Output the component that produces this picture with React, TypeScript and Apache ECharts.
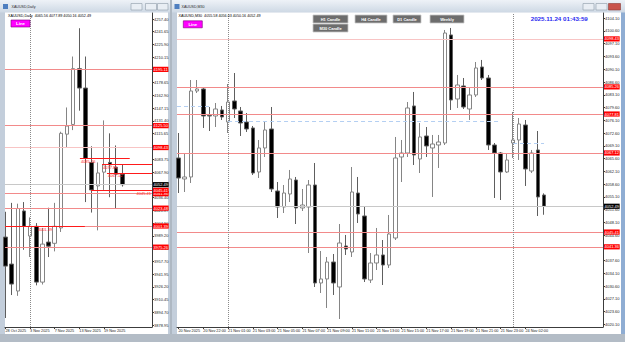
import React, { useEffect, useRef } from 'react';
import * as echarts from 'echarts';

// ---------------- Daily chart (left window) ----------------
const dailyOpen = [3987.7, 3954.3, 3921.0, 4020.0, 3989.0, 4001.0, 3932.0, 3981.5, 3980.0, 3999.0, 4115.0, 4127.0, 4196.0, 4172.0, 4080.0, 4051.0, 4068.0, 4080.0, 4074.0, 4065.56];
const dailyHigh = [4019.0, 4030.0, 4029.0, 4031.0, 4012.0, 4005.0, 3999.0, 4024.0, 4030.0, 4118.0, 4148.0, 4211.0, 4246.0, 4211.0, 4100.0, 4080.0, 4132.0, 4116.0, 4101.0, 4077.89];
const dailyLow = [3887.6, 3916.0, 3915.0, 3972.0, 3963.0, 3928.0, 3929.0, 3963.0, 3970.0, 3994.0, 4098.0, 4120.0, 4144.0, 4031.0, 4018.0, 3996.0, 4046.0, 4037.0, 4023.5, 4050.16];
const dailyClose = [3951.8, 3929.6, 4023.0, 4001.0, 4001.0, 3932.0, 3979.0, 3976.5, 4001.0, 4116.0, 4125.0, 4196.0, 4172.0, 4085.0, 4046.0, 4067.0, 4077.0, 4077.0, 4065.5, 4052.49];
const dailyTickPos = [0, 4, 8, 12, 16];
const dailyTickLabels = ['28 Oct 2025', '3 Nov 2025', '7 Nov 2025', '13 Nov 2025', '19 Nov 2025'];
const dailyPriceTicks = [3878.95, 3894.70, 3910.45, 3926.20, 3941.95, 3957.70, 3973.56, 3989.20, 4004.90, 4020.87, 4036.40, 4052.41, 4067.90, 4083.75, 4099.71, 4115.65, 4131.40, 4147.15, 4162.90, 4178.65, 4194.33, 4210.15, 4225.90, 4241.65, 4257.40];
const dailyLevels = [4195.11, 4125.50, 4098.43, 4041.36, 4023.48, 4001.39, 3975.26];
const dailyRayPrice = [4085.26, 4077.81, 4067.12, 4045.41, 4001.39];
const dailyRayFrom = [12.1, 15.7, 16.5, 13.9, -0.08];
const dailyRayTo = [20.2, 23.82, 23.82, 23.82, 12.9];
const dailySeparators = [4];

// ---------------- M30 chart (right window) ----------------
const m30Open = [4065.74, 4059.98, 4060.53, 4084.13, 4084.68, 4077.40, 4077.27, 4078.92, 4075.62, 4081.39, 4078.64, 4075.62, 4073.98, 4061.90, 4068.49, 4073.70, 4056.68, 4052.29, 4055.86, 4059.70, 4052.02, 4052.29, 4058.33, 4031.43, 4032.53, 4037.19, 4030.33, 4041.59, 4039.94, 4056.13, 4049.82, 4032.25, 4036.92, 4039.12, 4036.37, 4043.78, 4066.02, 4067.11, 4080.02, 4065.47, 4071.78, 4068.49, 4069.31, 4069.86, 4099.51, 4081.94, 4085.51, 4079.19, 4083.04, 4090.72, 4087.70, 4069.31, 4067.11, 4061.90, 4069.86, 4070.68, 4074.80, 4062.17, 4067.94, 4055.58];
const m30High = [4072.60, 4067.11, 4087.15, 4087.15, 4084.96, 4079.74, 4080.84, 4080.02, 4086.05, 4089.07, 4079.74, 4078.09, 4074.53, 4070.68, 4075.62, 4079.74, 4059.15, 4058.33, 4062.45, 4060.53, 4057.23, 4059.70, 4064.37, 4040.21, 4038.57, 4039.39, 4047.62, 4044.61, 4063.27, 4060.53, 4052.29, 4039.66, 4046.53, 4043.23, 4050.10, 4071.51, 4070.68, 4081.11, 4083.86, 4075.35, 4074.25, 4072.06, 4072.06, 4100.88, 4101.43, 4088.53, 4087.70, 4084.96, 4092.09, 4092.65, 4088.53, 4069.86, 4067.39, 4066.84, 4078.37, 4076.72, 4076.17, 4067.94, 4073.15, 4056.03];
const m30Low = [4056.13, 4056.41, 4058.88, 4083.58, 4073.98, 4073.15, 4074.25, 4076.17, 4072.60, 4076.72, 4071.78, 4072.88, 4061.08, 4060.25, 4066.02, 4056.41, 4049.27, 4050.64, 4053.66, 4047.62, 4051.19, 4039.66, 4030.33, 4028.68, 4024.57, 4028.14, 4021.55, 4039.12, 4038.57, 4047.90, 4031.70, 4031.43, 4035.00, 4030.88, 4035.55, 4043.23, 4059.15, 4066.02, 4063.82, 4061.62, 4066.02, 4055.04, 4063.00, 4069.31, 4078.92, 4079.47, 4079.19, 4076.17, 4082.49, 4087.15, 4067.94, 4054.76, 4054.21, 4061.62, 4065.74, 4065.19, 4058.06, 4061.62, 4049.82, 4050.16];
const m30Close = [4060.25, 4060.53, 4084.13, 4084.68, 4077.27, 4077.27, 4079.19, 4077.00, 4081.11, 4079.19, 4075.35, 4073.70, 4061.62, 4068.49, 4073.43, 4057.23, 4052.29, 4056.13, 4059.98, 4052.02, 4052.84, 4058.33, 4031.43, 4032.53, 4037.19, 4031.43, 4042.41, 4040.76, 4056.41, 4050.37, 4032.53, 4036.92, 4039.12, 4036.37, 4044.88, 4065.74, 4067.11, 4079.47, 4066.57, 4071.51, 4069.04, 4069.58, 4070.13, 4100.05, 4081.66, 4085.78, 4079.74, 4083.04, 4090.45, 4087.70, 4069.31, 4067.11, 4061.90, 4065.19, 4070.68, 4075.07, 4062.72, 4067.11, 4055.04, 4052.49];
const m30TickPos = [0, 4, 8, 12, 16, 20, 24, 28, 32, 36, 40, 44, 48, 52, 56];
const m30TickLabels = ['20 Nov 2025', '20 Nov 22:00', '21 Nov 01:00', '21 Nov 03:00', '21 Nov 05:00', '21 Nov 07:00', '21 Nov 09:00', '21 Nov 11:00', '21 Nov 13:00', '21 Nov 15:00', '21 Nov 17:00', '21 Nov 19:00', '21 Nov 21:00', '21 Nov 23:00', '24 Nov 02:00'];
const m30PriceTicks = [4020.10, 4023.60, 4027.10, 4030.60, 4034.10, 4037.60, 4041.10, 4044.60, 4048.10, 4051.60, 4055.10, 4058.60, 4062.10, 4065.60, 4069.10, 4072.60, 4076.10, 4079.60, 4083.10, 4086.60, 4090.10, 4093.60, 4097.10, 4100.60, 4104.10];
const m30Levels = [4098.43, 4085.26, 4077.81, 4067.12, 4045.41, 4041.36];
const m30BluePrice = [4080.02, 4075.80, 4069.86];
const m30BlueFrom = [-0.24, 8, 54];
const m30BlueTo = [5.4, 51.9, 59];
const m30Separators = [8, 54];

const bidPrice = 4052.49;
const dailyHeader = 'XAUUSD,Daily  4065.56 4077.89 4050.16 4052.49';
const m30Header = 'XAUUSD,M30  4055.58 4056.03 4050.16 4052.49';
const serverTime = '2025.11.24 01:43:59';
const periodButtons = ['H1 Candle', 'H4 Candle', 'D1 Candle', 'Weekly', 'M30 Candle'];

const FONT = 'Liberation Sans, Arial, sans-serif';
const SALMON = '#f28a8a';
const PALE = '#f8c4c4';

function levelLine(p: number, color: string) {
  return {
    yAxis: p,
    lineStyle: { color, width: 1, type: 'solid' },
    label: {
      show: true, position: 'end', formatter: p.toFixed(2), backgroundColor: '#ff0000', color: '#ffffff',
      fontSize: 4, fontFamily: FONT, padding: [0.8, 0.6, 0.4, 0.6], distance: 1,
    },
  };
}
function bidLine(p: number) {
  return {
    yAxis: p,
    lineStyle: { color: '#c8c8c8', width: 1, type: 'solid' },
    label: {
      show: true, position: 'end', formatter: p.toFixed(2), backgroundColor: '#000000', color: '#ffffff',
      fontSize: 4, fontFamily: FONT, padding: [0.8, 0.6, 0.4, 0.6], distance: 1,
    },
  };
}
function sepLine(x: number) {
  return { xAxis: x, lineStyle: { color: '#8a8a8a', width: 1, type: [1, 1] }, label: { show: false } };
}

function buildOption() {
  const dailyData = dailyOpen.map((o, i) => [i, o, dailyClose[i], dailyLow[i], dailyHigh[i]]);
  const m30Data = m30Open.map((o, i) => [i, o, m30Close[i], m30Low[i], m30High[i]]);

  const rayLabelPos = ['insideStartBottom', 'insideStartBottom', 'insideStartBottom', 'insideEndBottom', 'insideMiddleBottom'];
  const dailyMarks: any[] = [
    ...dailyLevels.map((p) => levelLine(p, p === 4098.43 ? PALE : SALMON)),
    bidLine(bidPrice),
    ...dailySeparators.map(sepLine),
    ...dailyRayPrice.map((p, i) => [
      {
        coord: [dailyRayFrom[i], p],
        lineStyle: { color: '#ff1a1a', width: 1, type: 'solid' },
        label: {
          show: true, position: rayLabelPos[i], formatter: p.toFixed(2), color: '#ff2020', fontSize: 4,
          fontFamily: FONT, distance: 1,
        },
      },
      { coord: [dailyRayTo[i], p] },
    ]),
  ];
  // tag for the ray at 4045.41 on the price scale
  dailyMarks.push({
    yAxis: 4045.41,
    lineStyle: { color: 'rgba(0,0,0,0)', width: 0 },
    label: {
      show: true, position: 'end', formatter: '4045.41', backgroundColor: '#ff0000', color: '#ffffff',
      fontSize: 4, fontFamily: FONT, padding: [0.8, 0.6, 0.4, 0.6], distance: 1,
    },
  });

  const m30Marks: any[] = [
    ...m30Levels.map((p, i) => levelLine(p, i === 0 ? PALE : SALMON)),
    bidLine(bidPrice),
    ...m30Separators.map(sepLine),
    ...m30BluePrice.map((p, i) => [
      { coord: [m30BlueFrom[i], p], lineStyle: { color: '#b4cff2', width: 1, type: [4, 3] }, label: { show: false } },
      { coord: [m30BlueTo[i], p] },
    ]),
  ];

  const candleStyle = {
    color: '#ffffff', color0: '#000000', borderColor: '#858585', borderColor0: '#5e5e5e', borderWidth: 1,
  };

  const axisLineStyle = { color: '#3c3c3c', width: 1 };

  const yAxisCommon = (min: number, max: number, ticks: number[], grid: number) => ({
    type: 'value', gridIndex: grid, position: 'right', min, max,
    axisLine: { show: true, onZero: false, lineStyle: axisLineStyle },
    axisTick: { show: true, customValues: ticks, length: 2, lineStyle: axisLineStyle },
    axisLabel: {
      customValues: ticks, formatter: (v: number) => v.toFixed(2), fontSize: 4, color: '#1e1e1e', margin: 2,
      fontFamily: FONT,
    },
    splitLine: { show: false },
  });
  const xAxisCommon = (min: number, max: number, pos: number[], labels: string[], grid: number) => ({
    type: 'value', gridIndex: grid, position: 'bottom', min, max,
    axisLine: { show: true, onZero: false, lineStyle: axisLineStyle },
    axisTick: { show: true, customValues: pos, length: 2, lineStyle: axisLineStyle },
    axisLabel: {
      customValues: pos, formatter: (v: number) => { const k = pos.indexOf(v); return k >= 0 ? labels[k] : ''; },
      fontSize: 3.8, color: '#1e1e1e', margin: 1.5, align: 'left', fontFamily: FONT,
    },
    splitLine: { show: false },
  });

  const titleGrad = {
    type: 'linear', x: 0, y: 0, x2: 0, y2: 1,
    colorStops: [{ offset: 0, color: '#eef2f7' }, { offset: 1, color: '#cdd8e4' }],
  };

  const txt = (text: string, x: number, y: number, size: number, fill: string, extra: any = {}) => ({
    type: 'text', z: 100, silent: true,
    style: { text, x, y, fill, fontSize: size, fontFamily: FONT, verticalAlign: 'middle', align: 'left', ...extra },
  });
  const rect = (x: number, y: number, w: number, h: number, fill: any, z: number, stroke?: string, lw = 0.6) => ({
    type: 'rect', z, silent: true, shape: { x, y, width: w, height: h },
    style: { fill, stroke: stroke || 'none', lineWidth: stroke ? lw : 0 },
  });

  const btnBoxes = [
    [313, 15, 35, 8], [355, 15, 32, 8], [393, 15, 28, 8], [430, 15, 34, 8], [313, 24, 35, 8],
  ];

  const graphic: any[] = [
    // window frames
    rect(0, 0, 170, 342, '#c3cedb', -5),
    rect(172, 0, 453, 342, '#c3cedb', -5),
    rect(621, 12, 4, 322, '#8fadd3', -4),
    rect(0, 334, 625, 8, '#b3bcc6', -4),
    // title bars
    rect(0, 0, 170, 12.5, titleGrad, -4),
    rect(172, 0, 453, 12.5, titleGrad, -4),
    rect(3, 4, 5, 5, '#4f7fc0', 100),
    rect(174.5, 4, 5, 5, '#4f7fc0', 100),
    txt('XAUUSD,Daily', 11.5, 6.5, 3.6, '#2a2a2a'),
    txt('XAUUSD,M30', 181.5, 6.5, 3.6, '#2a2a2a'),
    rect(131, 3.5, 11, 6.5, '#e9eef4', 100, '#8e9aa8'),
    rect(145.5, 3.5, 11, 6.5, '#e9eef4', 100, '#8e9aa8'),
    rect(157.5, 3.5, 10.5, 6.5, '#e9eef4', 100, '#8e9aa8'),
    rect(583, 3.5, 11, 6.5, '#e9eef4', 100, '#8e9aa8'),
    rect(596, 3.5, 11, 6.5, '#e9eef4', 100, '#8e9aa8'),
    rect(608.5, 3.5, 12, 6.5, '#c9544c', 100, '#8c3b35'),
    // white chart areas
    rect(5, 12.5, 163, 321.5, '#ffffff', -3),
    rect(177, 12.5, 444, 321.5, '#ffffff', -3),
    // headers
    txt(dailyHeader, 8, 16, 3.7, '#000000'),
    txt(m30Header, 178.5, 16, 3.7, '#000000'),
    // Line buttons
    rect(11, 20, 19, 7, '#ff00ff', 100, '#7a007a'),
    txt('Line', 20.5, 23.6, 4.3, '#ffffff', { align: 'center', fontWeight: 'bold' }),
    rect(183.3, 20.8, 19, 7, '#ff00ff', 100, '#7a007a'),
    txt('Line', 192.8, 24.4, 4.3, '#ffffff', { align: 'center', fontWeight: 'bold' }),
    // period buttons
    ...btnBoxes.map((b) => rect(b[0], b[1], b[2], b[3], '#6d6d6d', 100, '#c8c8c8', 0.8)),
    ...periodButtons.map((t, i) => txt(t, btnBoxes[i][0] + btnBoxes[i][2] / 2, btnBoxes[i][1] + 4.2, 4, '#ffffff', { align: 'center', fontWeight: 'bold' })),
    // server time
    txt(serverTime, 530.7, 18.4, 6.2, '#2b2bf0', { fontWeight: 'bold' }),
  ];

  return {
    animation: false,
    backgroundColor: '#aeb8c3',
    textStyle: { fontFamily: FONT },
    graphic,
    grid: [
      { left: 5, top: 13, width: 147, height: 314, show: false },
      { left: 177, top: 13, width: 426, height: 314, show: false },
    ],
    xAxis: [
      xAxisCommon(-0.081, 23.82, dailyTickPos, dailyTickLabels, 0),
      xAxisCommon(-0.242, 68.52, m30TickPos, m30TickLabels, 1),
    ],
    yAxis: [
      yAxisCommon(3876.48, 4264.83, dailyPriceTicks, 0),
      yAxisCommon(4019.35, 4105.54, m30PriceTicks, 1),
    ],
    series: [
      {
        type: 'candlestick', name: 'XAUUSD,Daily', xAxisIndex: 0, yAxisIndex: 0, data: dailyData,
        encode: { x: 0, y: [1, 2, 3, 4] }, barWidth: 4, itemStyle: candleStyle, clip: true,
        markLine: { silent: true, symbol: ['none', 'none'], animation: false, emphasis: { disabled: true }, data: dailyMarks },
      },
      {
        type: 'candlestick', name: 'XAUUSD,M30', xAxisIndex: 1, yAxisIndex: 1, data: m30Data,
        encode: { x: 0, y: [1, 2, 3, 4] }, barWidth: 4, itemStyle: candleStyle, clip: true,
        markLine: { silent: true, symbol: ['none', 'none'], animation: false, emphasis: { disabled: true }, data: m30Marks },
      },
    ],
  };
}

export default function App() {
  const ref = useRef<HTMLDivElement>(null);
  useEffect(() => {
    if (!ref.current) return;
    const chart = echarts.init(ref.current, null, { renderer: 'svg' });
    chart.setOption(buildOption() as any);
    return () => chart.dispose();
  }, []);
  return <div ref={ref} style={{ position: 'fixed', left: 0, top: 0, width: 625, height: 342 }} />;
}
